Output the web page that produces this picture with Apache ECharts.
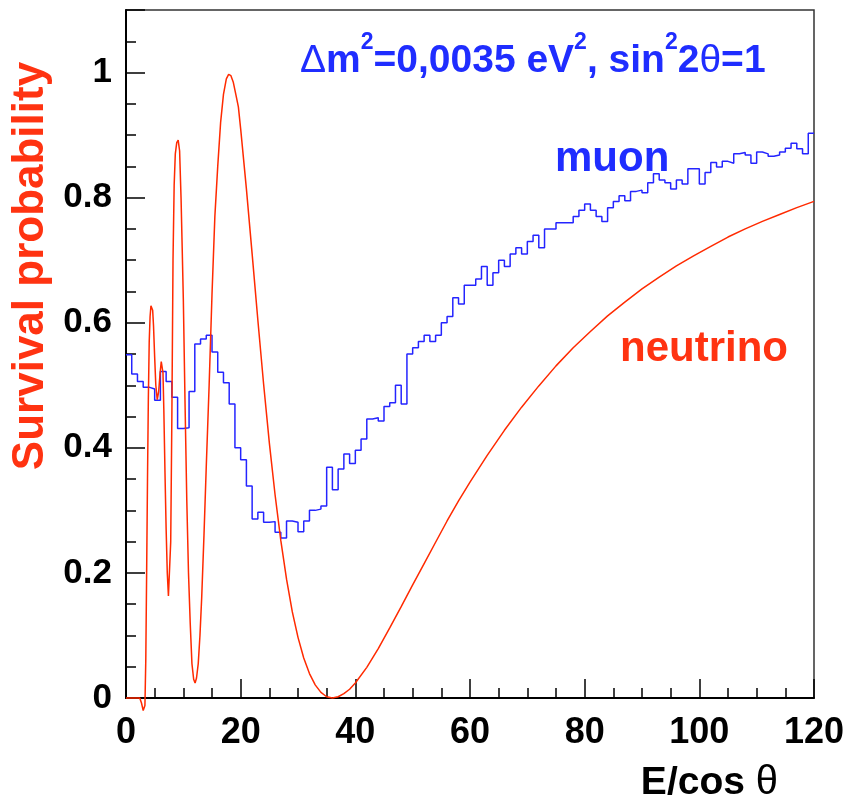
<!DOCTYPE html>
<html><head><meta charset="utf-8">
<script src="https://cdn.jsdelivr.net/npm/echarts@6/dist/echarts.min.js"></script>
<style>html,body{margin:0;padding:0;background:#fff}#c{width:855px;height:805px}</style>
</head><body><div id="c"></div>
<script>
// Neutrino survival probability curve
const neutrinoE = [0,1,2,2.4,2.7,3.0,3.15,3.3,3.45,3.6,3.75,3.9,4.05,4.2,4.35,4.5,4.65,4.8,5.0,5.2,5.45,5.7,5.95,6.15,6.3,6.45,6.6,6.8,7.0,7.2,7.4,7.5,7.6,7.8,8.0,8.2,8.4,8.6,8.85,9.1,9.35,9.6,9.8,10.0,10.3,10.6,10.9,11.2,11.5,11.8,12.05,12.3,12.6,12.9,13.2,13.6,14.0,14.5,15.0,15.5,16.0,16.5,17.0,17.5,17.9,18.3,18.7,19.2,19.6,20,21,22,23,24,25,26,27,28,29,30,31,32,33,34,35,36,37,38,39,40,42,44,46,48,50,52,54,56,58,60,63,66,69,72,75,78,81,84,87,90,93,96,99,102,105,108,111,114,117,120];
const neutrinoP = [0,0,0,0,-0.008,-0.02,-0.022,-0.012,0.06,0.2,0.35,0.48,0.57,0.61,0.627,0.629,0.62,0.595,0.545,0.5,0.477,0.49,0.52,0.538,0.541,0.52,0.46,0.36,0.27,0.2,0.163,0.16,0.165,0.25,0.45,0.7,0.82,0.87,0.888,0.892,0.875,0.8,0.72,0.637,0.47,0.317,0.2,0.12,0.055,0.03,0.024,0.032,0.055,0.1,0.16,0.26,0.37,0.5,0.645,0.77,0.85,0.92,0.965,0.99,0.997,0.995,0.985,0.963,0.945,0.91,0.814,0.71,0.604,0.502,0.408,0.325,0.252,0.19,0.138,0.097,0.064,0.039,0.021,0.009,0.002,0,0.002,0.007,0.014,0.024,0.049,0.079,0.112,0.146,0.181,0.215,0.249,0.283,0.315,0.345,0.388,0.428,0.465,0.499,0.531,0.56,0.586,0.611,0.633,0.654,0.673,0.691,0.707,0.722,0.737,0.75,0.762,0.773,0.784,0.794];

// Muon histogram: lower bin edges and bin contents
const muonBinLow = [0,1,2,3,4,5,6,7,8,9,10,11,12,13,14,15,16,17,18,19,20,21,22,23,24,25,26,27,28,29,30,31,32,33,34,35,36,37,38,39,40,41,42,43,44,45,46,47,48,49,50,51,52,53,54,55,56,57,58,59,60,61,62,63,64,65,66,67,68,69,70,71,72,73,74,75,76,77,78,79,80,81,82,83,84,85,86,87,88,89,90,91,92,93,94,95,96,97,98,99,100,101,102,103,104,105,106,107,108,109,110,111,112,113,114,115,116,117,118,119];
const muonBinHigh = 120;
const muonP = [0.549,0.518,0.506,0.497,0.494,0.476,0.522,0.506,0.481,0.431,
0.432,0.490,0.566,0.574,0.580,0.553,0.521,0.504,0.470,0.400,
0.381,0.339,0.286,0.297,0.281,0.282,0.265,0.256,0.283,0.281,
0.266,0.283,0.300,0.302,0.307,0.369,0.333,0.366,0.390,0.375,
0.396,0.414,0.446,0.448,0.443,0.466,0.472,0.50,0.47,0.55,
0.56,0.57,0.58,0.57,0.58,0.60,0.61,0.64,0.63,0.66,
0.66,0.67,0.69,0.66,0.68,0.70,0.69,0.71,0.72,0.71,
0.73,0.74,0.72,0.75,0.75,0.76,0.76,0.76,0.77,0.78,
0.79,0.78,0.770,0.762,0.784,0.794,0.803,0.795,0.810,0.812,
0.808,0.824,0.838,0.828,0.824,0.814,0.828,0.822,0.846,0.846,
0.822,0.840,0.856,0.849,0.858,0.855,0.870,0.872,0.868,0.855,
0.873,0.870,0.866,0.868,0.873,0.879,0.887,0.878,0.870,0.903];

const xTitle = 'E/cos θ';
const yTitle = 'Survival probability';

const chart = echarts.init(document.getElementById('c'));
const nuData = neutrinoE.map((x, i) => [x, neutrinoP[i]]);
const muonData = muonBinLow.map((x, i) => [x, muonP[i]]);
muonData.push([muonBinHigh, muonP[muonP.length - 1]]);

const blue = '#1f2dff';
const red = '#ff3311';
const fmtY = v => { const k = v / 0.2; return Math.abs(k - Math.round(k)) < 1e-6 ? String(+v.toFixed(1)) : ''; };
const sup = {fontSize: 23, fontWeight: 'bold', fontFamily: 'Liberation Sans', color: blue, lineHeight: 24, padding: [0, 0, 27, 0], verticalAlign: 'bottom'};
const mainB = {fontSize: 39, fontWeight: 'bold', fontFamily: 'Liberation Sans', color: blue, lineHeight: 44, verticalAlign: 'bottom'};
const mainN = {fontSize: 39, fontWeight: 'normal', fontFamily: 'Liberation Sans', color: blue, lineHeight: 44, verticalAlign: 'bottom'};

chart.setOption({
  animation: false,
  grid: {left: 126, top: 10, width: 688, height: 688, show: true, borderColor: '#333', borderWidth: 1.5, outerBoundsMode: 'none'},
  title: [
    {text: '{d|Δ}{b|m}{s|2}{b|=0,0035 eV}{s|2}{b|, sin}{s|2}{b|2}{d|θ}{b|=1}', left: 300, top: 37, padding: 0,
     textStyle: {rich: {b: mainB, d: mainN, s: sup}}},
    {text: 'muon', left: 555, top: 138, padding: 0, textStyle: {color: blue, fontSize: 42, fontWeight: 'bold', fontFamily: 'Liberation Sans'}},
    {text: 'neutrino', left: 620, top: 328, padding: 0, textStyle: {color: red, fontSize: 42, fontWeight: 'bold', fontFamily: 'Liberation Sans'}}
  ],
  xAxis: [{
    type: 'value', min: 0, max: 120, interval: 20, position: 'bottom',
    axisLine: {lineStyle: {color: '#000', width: 2}},
    axisTick: {inside: true, length: 19, lineStyle: {color: '#000', width: 1.5}},
    minorTick: {show: true, splitNumber: 4, length: 10, lineStyle: {color: '#000', width: 1.5}},
    splitLine: {show: false},
    axisLabel: {color: '#000', fontSize: 36, fontWeight: 'bold', fontFamily: 'Liberation Sans', margin: 17},
    name: '{a|E/cos }{b|θ}', nameLocation: 'end', nameGap: -36,
    nameTextStyle: {align: 'right', verticalAlign: 'top', padding: [65, 0, 0, 0],
      rich: {a: {fontSize: 39, fontWeight: 'bold', fontFamily: 'Liberation Sans', color: '#000'},
             b: {fontSize: 40, fontWeight: 'normal', fontFamily: 'Liberation Sans', color: '#000'}}}
  }],
  yAxis: [{
    type: 'value', min: 0, max: 1.1, interval: 0.05, position: 'left',
    axisLine: {show: true, lineStyle: {color: '#000', width: 2}},
    axisTick: {inside: true, length: 10, lineStyle: {color: '#000', width: 1.5}},
    splitLine: {show: false},
    axisLabel: {formatter: fmtY, color: '#000', fontSize: 35, fontWeight: 'bold', fontFamily: 'Liberation Sans', margin: 14},
    name: yTitle, nameLocation: 'middle', nameRotate: 90, nameGap: 66,
    nameTextStyle: {color: red, fontSize: 44, fontWeight: 'bold', fontFamily: 'Liberation Sans', padding: [0, 0, 0, 176]}
  }, {
    type: 'value', min: 0, max: 1.1, interval: 0.2, position: 'left',
    axisLine: {show: false},
    axisTick: {inside: true, length: 19, lineStyle: {color: '#000', width: 1.5}},
    splitLine: {show: false},
    axisLabel: {show: false}
  }],
  series: [
    {type: 'line', name: 'muon', data: muonData, step: 'end', showSymbol: false, symbol: 'none',
     lineStyle: {color: '#2424ff', width: 1.5}, z: 3},
    {type: 'line', name: 'neutrino', data: nuData, showSymbol: false, symbol: 'none', clip: false,
     lineStyle: {color: '#ff2a00', width: 1.5}, z: 4}
  ]
});
</script></body></html>
